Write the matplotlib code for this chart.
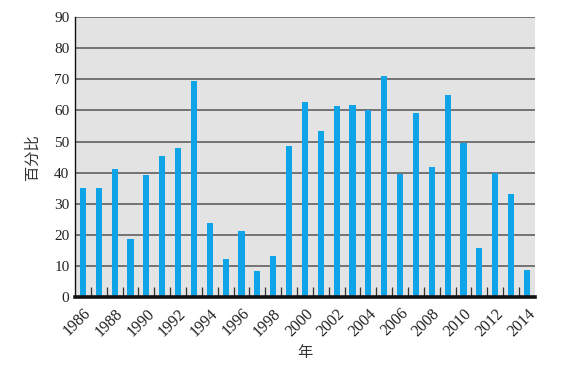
import matplotlib
matplotlib.use("Agg")
import matplotlib.pyplot as plt
import numpy as np

years = list(range(1986, 2015))
values = [35, 35, 41.2, 18.7, 39.2, 45.3, 48, 69.4, 23.8, 12.3, 21.1, 8.3, 13.2,
          48.6, 62.6, 53.5, 61.5, 61.8, 60, 71, 39.7, 59, 41.8, 64.9, 49.6,
          15.8, 40, 33, 8.8]
tick_years = list(range(1986, 2015, 2))

plt.rcParams["font.family"] = ["Liberation Serif", "Noto Sans CJK SC"]

fig = plt.figure(figsize=(5.66, 3.70), dpi=100)
ax = fig.add_axes([0.1325, 0.197, 0.8125, 0.757])
ax.set_facecolor("#e3e3e3")

ax.bar(years, values, width=0.38, color="#0fa4e8", zorder=3)

ax.set_xlim(1985.5, 2014.5)
ax.set_ylim(0, 90)
ax.set_yticks(range(0, 91, 10))
ax.yaxis.grid(True, color="#555555", linewidth=1.1, zorder=1)
ax.tick_params(axis="y", length=0, labelsize=11, pad=4, labelcolor="#222222")

ax.set_xticks(tick_years)
ax.set_xticklabels([str(y) for y in tick_years], rotation=45, ha="right",
                   rotation_mode="anchor", fontsize=11.5, color="#222222")
ax.set_xticks(np.arange(1986.5, 2014, 1), minor=True)
ax.tick_params(axis="x", which="major", length=0, pad=6)
ax.tick_params(axis="x", which="minor", direction="in", length=7, width=0.9,
               color="#333333")

for s in ["top", "right"]:
    ax.spines[s].set_visible(False)
ax.spines["left"].set_color("#111111")
ax.spines["left"].set_linewidth(1.0)
ax.spines["bottom"].set_color("#111111")
ax.spines["bottom"].set_linewidth(2.6)
ax.spines["bottom"].set_zorder(4)

ax.set_ylabel("百分比", fontsize=11, family=["Noto Sans CJK SC"],
              fontweight="light", color="#333333", labelpad=10)
ax.set_xlabel("年", fontsize=11, family=["Noto Sans CJK SC"],
              fontweight="light", color="#333333", labelpad=3)

fig.savefig("out.png", dpi=100)
